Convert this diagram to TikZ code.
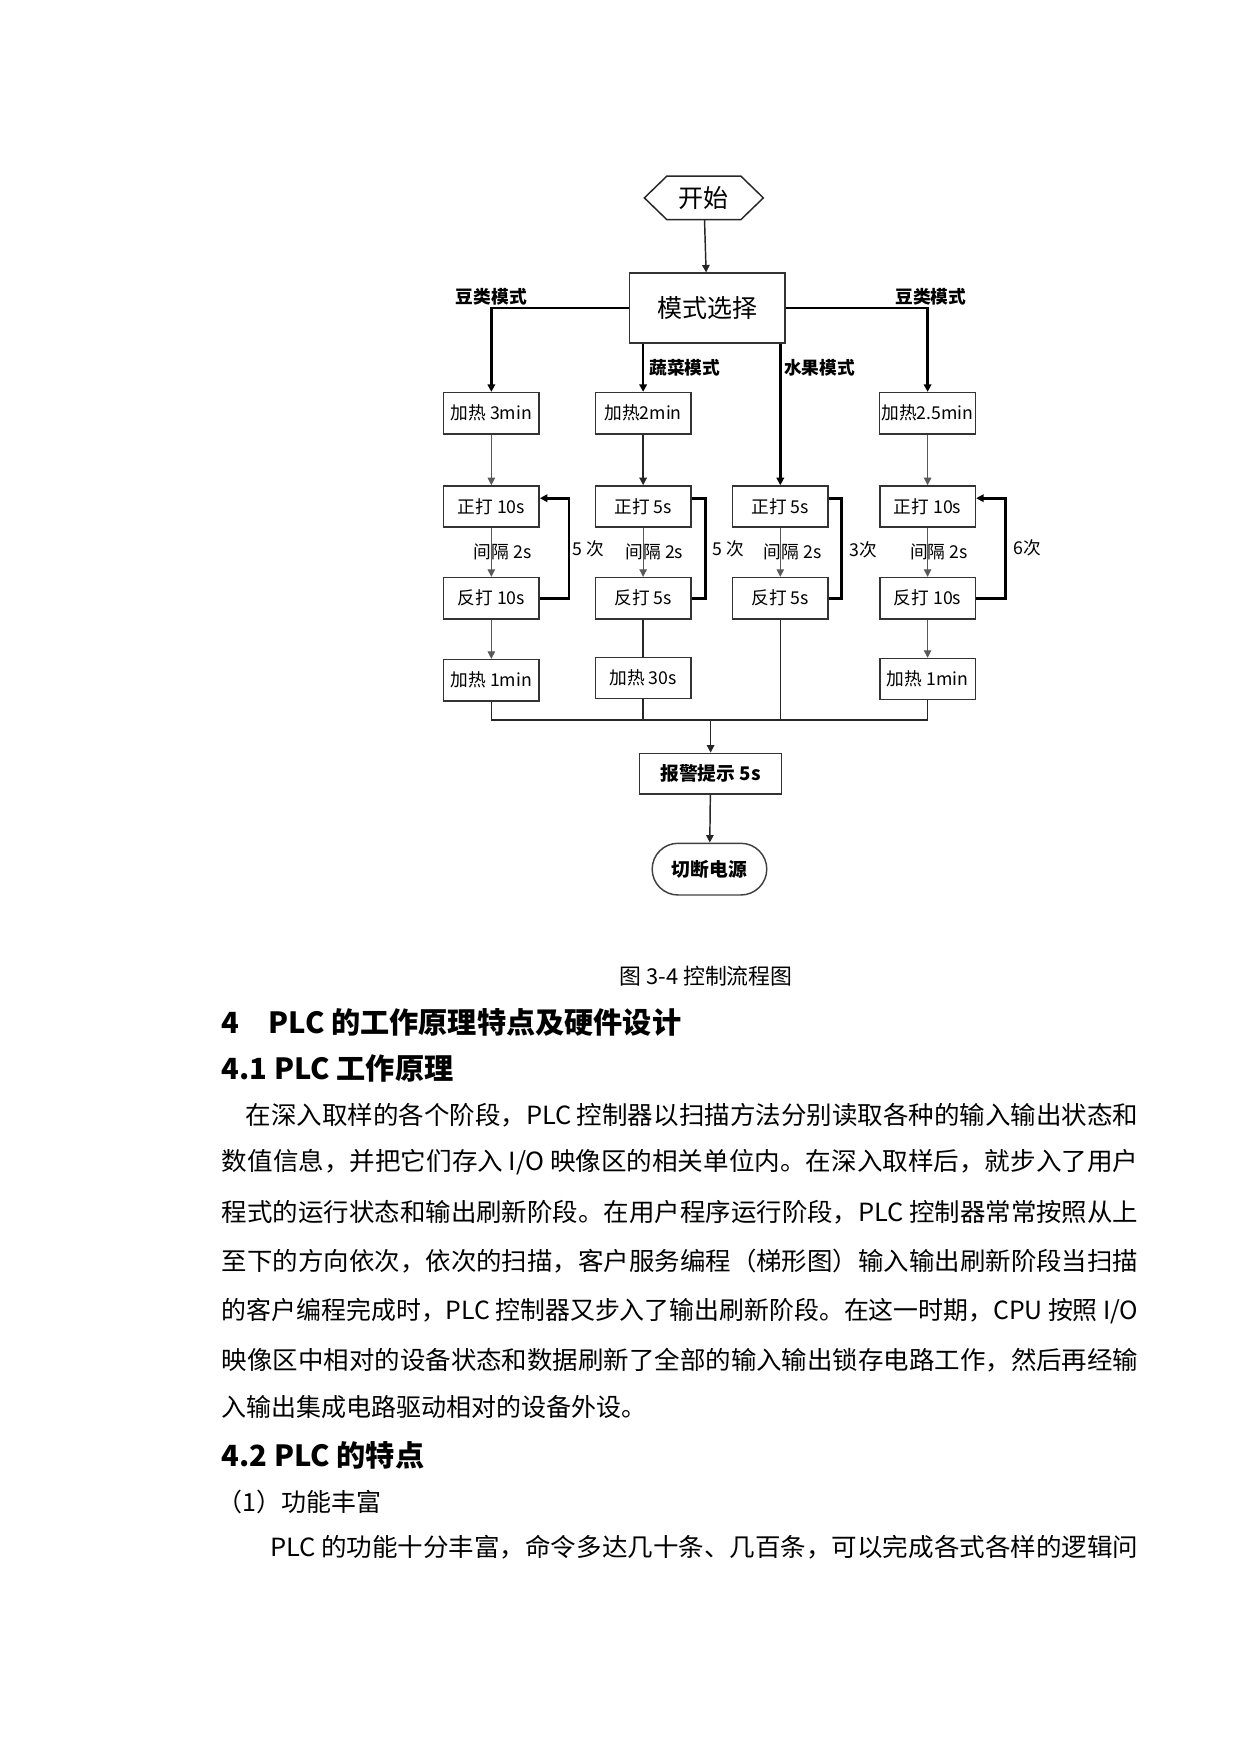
\documentclass[tikz,border=0pt]{standalone}
\usepackage{fontspec}
\usepackage{graphicx}
\setmainfont{Noto Sans CJK SC}
\usetikzlibrary{arrows.meta,shapes.misc,calc}
\newcommand\gp{\kern2.5pt}
\newcommand\fitline[2]{\resizebox{#1}{\height}{#2}}
\begin{document}
\begin{tikzpicture}[x=0.5396pt,y=-0.5396pt,
  box/.style={draw=black!80, line width=0.7pt, minimum width=45.9pt, minimum height=19.8pt, inner sep=1pt, font=\fontsize{8.5}{10}\selectfont},
  lab/.style={font=\bfseries\fontsize{8.5}{10}\selectfont, inner sep=1pt},
  small/.style={font=\fontsize{8.5}{10}\selectfont, inner sep=1pt},
  arr/.style={-{Triangle[length=3.6pt,width=3.6pt]}},
  thinline/.style={line width=0.5pt, draw=black!65},
  midline/.style={line width=0.7pt, draw=black!85},
  boldline/.style={line width=1.3pt, draw=black},
  body/.style={anchor=west, inner sep=0pt, font=\fontsize{12}{14}\selectfont},
  head/.style={anchor=west, inner sep=0pt, font=\bfseries\fontsize{14}{16}\selectfont}]
\useasboundingbox (0,0) rectangle (1103,1560);
% start hexagon
\node[minimum width=56.7pt, minimum height=20.5pt, inner sep=0pt, font=\fontsize{12}{14}\selectfont] (start) at (626,176) {开始};
\draw[midline] (start.west) -- ($(start.north west)+(20,0)$) -- ($(start.north east)+(-20,0)$) -- (start.east) -- ($(start.south east)+(-20,0)$) -- ($(start.south west)+(20,0)$) -- cycle;
\node[box, minimum width=74.5pt, minimum height=33.5pt, font=\fontsize{12}{14}\selectfont] (mode) at (629,274) {模式选择};
% mode labels
\node[lab] (lb1) at (437,264) {豆类模式};
\node[lab] (lb4) at (828,264) {豆类模式};
\node[lab] (lb2) at (609,327) {蔬菜模式};
\node[lab] (lb3) at (729,327) {水果模式};
% row 1
\node[box] (h1) at (437,367.5) {加热 3min};
\node[box] (h2) at (572,367.5) {加热2min};
\node[box] (h4) at (825,367.5) {加热2.5min};
% row 2
\node[box] (z1) at (437,450.5) {正打 10s};
\node[box] (z2) at (572,450.5) {正打 5s};
\node[box] (z3) at (694,450.5) {正打 5s};
\node[box] (z4) at (825,450.5) {正打 10s};
% row 3
\node[box] (f1) at (437,532) {反打 10s};
\node[box] (f2) at (572,532) {反打 5s};
\node[box] (f3) at (694,532) {反打 5s};
\node[box] (f4) at (825,532) {反打 10s};
% row 4
\node[box] (j1) at (437,605) {加热 1min};
\node[box] (j2) at (572,603) {加热 30s};
\node[box] (j4) at (825,604) {加热 1min};
% interval labels
\node[small] (g1) at (447,491) {间隔 2s};
\node[small] (g2) at (582,491) {间隔 2s};
\node[small] (g3) at (705,491) {间隔 2s};
\node[small] (g4) at (835,491) {间隔 2s};
% count labels
\node[small] (n1) at (523,488) {5 次};
\node[small] (n2) at (648,488) {5 次};
\node[small] (n3) at (768,489) {3次};
\node[small] (n4) at (914,487) {6次};
% bottom
\node[box, minimum width=68pt, minimum height=19.4pt, font=\bfseries\fontsize{9}{10}\selectfont] (alarm) at (632,688) {报警提示 5s};
\node[rounded rectangle, draw=black!75, line width=0.7pt, minimum width=57pt, minimum height=24.8pt, inner sep=1pt, font=\bfseries\fontsize{9}{10}\selectfont] (end) at (631,773) {切断电源};
\coordinate (m) at (632,640.5);
% connectors
\draw[arr, midline] (start) -- (mode);
\draw[arr, boldline] (mode.west) -| (h1.north);
\draw[arr, boldline] (mode.east) -| (h4.north);
\draw[arr, boldline] (mode.south -| h2.north) -- (h2.north);
\draw[arr, boldline] (mode.south -| z3.north) -- (z3.north);
\draw[arr, thinline] (h1) -- (z1);
\draw[arr, midline] (h2) -- (z2);
\draw[arr, thinline] (h4) -- (z4);
\draw[arr, thinline] (z1) -- (f1);
\draw[arr, thinline] (z2) -- (f2);
\draw[arr, thinline] (z3) -- (f3);
\draw[arr, thinline] (z4) -- (f4);
\draw[arr, thinline] (f1) -- (j1);
\draw[midline] (f2) -- (j2);
\draw[arr, thinline] (f4) -- (j4);
% loops
\draw[arr, boldline] (f1.east) -- ++(26,0) |- ([yshift=4pt]z1.east);
\draw[boldline] ([yshift=4pt]z2.east) -- ++(12,0) |- (f2.east);
\draw[boldline] ([yshift=4pt]z3.east) -- ++(11,0) |- (f3.east);
\draw[arr, boldline] (f4.east) -- ++(26,0) |- ([yshift=4pt]z4.east);
% merge
\draw[midline] (j1.south) |- (j4.south |- m) -- (j4.south);
\draw[midline] (j2.south) -- (j2.south |- m);
\draw[midline] (f3.south) -- (f3.south |- m);
\draw[arr, midline] (m) -- (alarm.north);
\draw[arr, midline] (alarm) -- (end);
% caption
\node[inner sep=0pt, font=\fontsize{10.5}{12}\selectfont] (cap) at (628,868) {图 3-4 控制流程图};
% headings and text
\node[head] (t0) at (197,909) {4\hspace{14pt}PLC 的工作原理特点及硬件设计};
\node[head] (t1) at (197,950) {4.1 PLC 工作原理};
\node[body] (l1) at (218,992) {\fitline{428.4pt}{在深入取样的各个阶段，PLC\gp 控制器以扫描方法分别读取各种的输入输出状态和}};
\node[body] (l2) at (197,1034) {\fitline{439.8pt}{数值信息，并把它们存入\gp I/O\gp 映像区的相关单位内。在深入取样后，就步入了用户}};
\node[body] (l3) at (197,1078) {\fitline{439.8pt}{程式的运行状态和输出刷新阶段。在用户程序运行阶段，PLC\gp 控制器常常按照从上}};
\node[body] (l4) at (197,1122) {\fitline{439.8pt}{至下的方向依次，依次的扫描，客户服务编程（梯形图）输入输出刷新阶段当扫描}};
\node[body] (l5) at (197,1166) {\fitline{439.8pt}{的客户编程完成时，PLC\gp 控制器又步入了输出刷新阶段。在这一时期，CPU\gp 按照\gp I/O}};
\node[body] (l6) at (197,1210) {\fitline{439.8pt}{映像区中相对的设备状态和数据刷新了全部的输入输出锁存电路工作，然后再经输}};
\node[body] (l7) at (197,1251) {入输出集成电路驱动相对的设备外设。};
\node[head] (t2) at (197,1294) {4.2 PLC 的特点};
\node[body] (p1) at (193,1336) {（1）功能丰富};
\node[body] (p2) at (240,1376) {\fitline{416.6pt}{PLC\gp 的功能十分丰富，命令多达几十条、几百条，可以完成各式各样的逻辑问}};
\end{tikzpicture}
\end{document}
